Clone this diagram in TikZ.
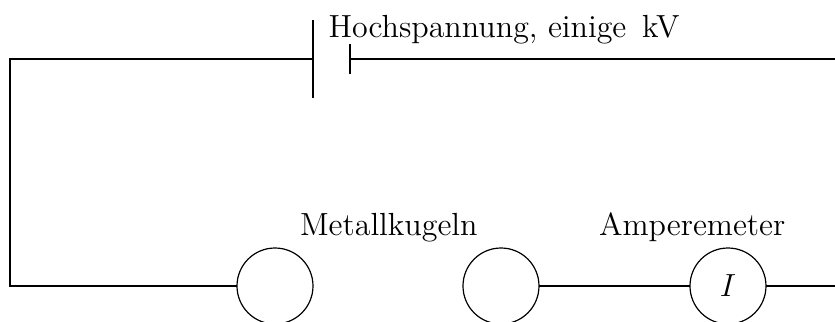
\documentclass[tikz,border=0pt]{standalone}
\begin{document}
\begin{tikzpicture}[x=0.375pt,y=-0.375pt,
  wire/.style={draw=black,line width=0.4pt},
  ball/.style={circle,draw=black,line width=0.45pt,minimum size=28.5pt,inner sep=0pt,outer sep=0pt,font=\fontsize{12}{14}\selectfont},
  lbl/.style={inner sep=0pt,anchor=base west,font=\fontsize{12}{14}\selectfont}]
\useasboundingbox (0,0) rectangle (835,322);
\clip (0,0) rectangle (835,322);
\coordinate (tl) at (10,59);
\coordinate (bl) at (10,286);
\coordinate (tr) at (835,59);
\coordinate (br) at (835,286);
\coordinate (pa) at (313,59);
\coordinate (pat) at (313,20);
\coordinate (pab) at (313,98);
\coordinate (pb) at (350,59);
\coordinate (pbt) at (350,44);
\coordinate (pbb) at (350,74);
\node[ball] (k1) at (275,286) {};
\node[ball] (k2) at (501,286) {};
\node[ball] (am) at (728,286) {$I$};
\draw[wire] (pa) -- (tl) -- (bl) -- (k1.west);
\draw[wire] (pat) -- (pab);
\draw[wire] (pbt) -- (pbb);
\draw[wire] (pb) -- (tr);
\draw[wire] (k2.east) -- (am.west);
\draw[wire] (am.east) -- (br);
\node[lbl] (hv) at (328,37) {Hochspannung, einige\, kV};
\node[lbl] (mk) at (299.5,235) {Metallkugeln};
\node[lbl] (amt) at (598.5,235) {Amperemeter};
\end{tikzpicture}
\end{document}
